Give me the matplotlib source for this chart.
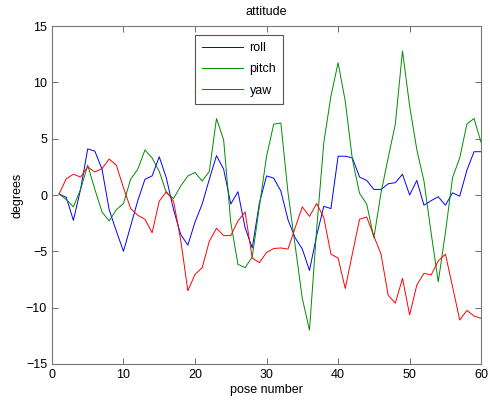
import numpy as np
import matplotlib
matplotlib.use("Agg")
from matplotlib import pyplot as plt

pose = np.arange(1, 61)

roll = [0.1, -0.2, -2.25, 0.5, 4.1, 3.9, 2.3, -1.3, -3.2, -5.0,
        -2.75, -0.5, 1.4, 1.7, 3.4, 1.5, -1.3, -3.5, -4.45, -2.4,
        -0.8, 1.4, 3.5, 2.3, -0.8, 0.3, -2.9, -4.7, -0.7, 1.7,
        1.5, 0.35, -2.2, -3.8, -4.8, -6.7, -3.6, -1.0, -1.2, 3.45,
        3.45, 3.3, 1.6, 1.3, 0.5, 0.5, 1.0, 1.1, 1.85, 0.0,
        1.3, -0.9, -0.5, -0.15, -0.9, 0.2, -0.1, 2.2, 3.85, 3.85]

pitch = [0.1, -0.4, -1.05, 0.5, 2.65, 0.5, -1.5, -2.3, -1.3, -0.75,
         1.4, 2.3, 4.0, 3.3, 2.1, 0.2, -0.3, 0.8, 1.7, 2.0,
         1.25, 2.1, 6.8, 4.9, -2.45, -6.15, -6.45, -5.5, -1.0, 3.45,
         6.3, 6.4, 0.2, -4.5, -9.2, -12.0, -3.05, 4.65, 8.8, 11.75,
         8.35, 3.15, 0.15, -0.8, -3.8, 0.2, 3.3, 6.3, 12.8, 7.9,
         4.05, 1.25, -3.35, -7.7, -3.35, 1.55, 3.3, 6.3, 6.8, 4.65]

yaw = [0.1, 1.45, 1.85, 1.6, 2.5, 2.05, 2.35, 3.2, 2.65, 0.65,
       -1.2, -1.8, -2.15, -3.35, -0.55, 0.3, -0.55, -4.0, -8.5, -7.05,
       -6.45, -4.1, -2.95, -3.6, -3.6, -2.3, -1.5, -5.6, -6.0, -5.1,
       -4.75, -4.7, -4.8, -2.9, -1.05, -1.9, -0.75, -2.0, -5.25, -5.6,
       -8.3, -5.2, -2.15, -1.95, -3.65, -5.25, -8.9, -9.6, -7.4, -10.65,
       -8.0, -6.95, -7.1, -5.85, -5.25, -8.15, -11.1, -10.25, -10.75, -10.95]

plt.rcParams['font.family'] = ['Liberation Sans', 'DejaVu Sans']
plt.rcParams['font.size'] = 9

fig = plt.figure(figsize=(4.9, 4.03), dpi=100)
ax = fig.add_axes([0.106, 0.097, 0.876, 0.838])

ax.plot(pose, roll, color='blue', linewidth=0.7, label='roll')
ax.plot(pose, pitch, color=(0, 0.55, 0), linewidth=0.7, label='pitch')
ax.plot(pose, yaw, color='red', linewidth=0.7, label='yaw')

ax.set_xlim(0, 60)
ax.set_ylim(-15, 15)
ax.set_xticks(np.arange(0, 61, 10))
ax.set_yticks(np.arange(-15, 16, 5))
ax.tick_params(direction='in', top=True, right=True, length=4, width=0.6,
               color='#555555', labelsize=9)
for s in ax.spines.values():
    s.set_color('#777777')
    s.set_linewidth(0.8)

ax.set_title('attitude', fontsize=9, pad=8)
ax.set_xlabel('pose number', fontsize=9, labelpad=2)
ax.set_ylabel('degrees', fontsize=9, labelpad=2)

leg = ax.legend(loc='upper left', bbox_to_anchor=(0.325, 0.985), fancybox=False,
                framealpha=1, edgecolor='#555555', fontsize=9, handlelength=3.3,
                handletextpad=0.5, labelspacing=0.75, borderpad=0.55,
                borderaxespad=0.3)
leg.get_frame().set_linewidth(0.8)

fig.savefig('out.png', dpi=100)
